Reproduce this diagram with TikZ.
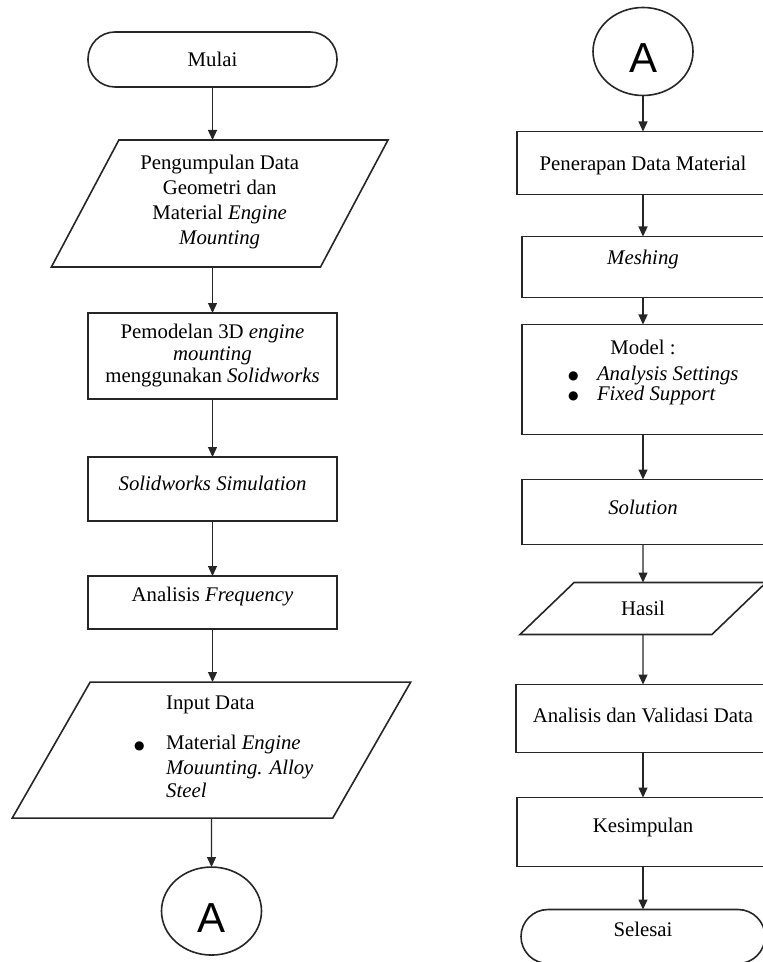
\documentclass[tikz,border=0pt]{standalone}
\usepackage{fontspec}
\setmainfont{Liberation Serif}
\newfontfamily\sansA{Liberation Sans}
\newfontfamily\dejavu{DejaVu Sans}
\usepackage{xcolor}
\definecolor{cLine}{HTML}{262626}
\usetikzlibrary{positioning,arrows.meta,shapes.geometric}
% extra depth below the last line, lifts the text a little
\newcommand{\padlow}[1]{\rule[-#1]{0pt}{#1}}
\newcommand{\bigdot}{\raisebox{0.4pt}{\dejavu\fontsize{6}{6}\selectfont ●}}
\tikzset{
  node-box/.style={draw=cLine,line width=0.8pt,rectangle,minimum width=124.5pt,
    align=center,inner sep=2pt,outer sep=0pt},
  node-term/.style={draw=cLine,line width=0.8pt,rectangle,rounded corners=13.5pt,
    minimum width=124.5pt,minimum height=27.5pt,align=center,outer sep=0pt},
  node-io/.style={draw=cLine,line width=0.8pt,trapezium,trapezium stretches=true,
    align=center,inner sep=2pt,outer sep=0pt},
  node-conn/.style={draw=cLine,line width=0.8pt,ellipse,minimum width=50pt,
    minimum height=44pt,inner sep=1pt,outer sep=0pt,text height=21pt,
    font=\sansA\fontsize{21}{24}\selectfont},
  arrow/.style={-{Triangle[length=5pt,width=4.5pt]},line width=0.6pt,draw=cLine},
}

\begin{document}
\begin{tikzpicture}[x=0.5pt,y=-0.5pt,font=\fontsize{10.4}{12.5}\selectfont]
  \useasboundingbox (0,0) rectangle (762,962);
  % kolom kiri
  \node[node-term] (start) at (212.5,59.5) {Mulai};
  \node[node-io,trapezium left angle=62,trapezium right angle=118,minimum width=168.5pt,
    minimum height=63.5pt,below=26.5pt of start,xshift=3.6pt] (geodata)
    {Pengumpulan Data\\Geometri dan\\Material \textit{Engine}\\\textit{Mounting}\padlow{3.8pt}};
  \node[node-box,minimum height=43pt,below=23pt of geodata,xshift=-3.6pt] (model3d)
    {Pemodelan 3D \textit{engine}\\[-1.5pt]\textit{mounting}\\[-1.5pt]menggunakan \textit{Solidworks}};
  \node[node-box,minimum height=32pt,text depth=5.3pt,below=29pt of model3d] (simsw)
    {\textit{Solidworks Simulation}};
  \node[node-box,minimum height=26.5pt,text depth=7.8pt,below=27.5pt of simsw] (analfreq)
    {Analisis \textit{Frequency}};
  \node[node-io,align=left,trapezium left angle=59.5,trapezium right angle=120.5,
    minimum width=199.5pt,minimum height=68pt,below=26.5pt of analfreq,xshift=-0.5pt] (inputdata)
    {\hspace*{28.3pt}Input Data\\[7.5pt]
     \hspace*{12.3pt}\makebox[16pt][l]{\bigdot}Material \textit{Engine}\\
     \hspace*{28.3pt}\textit{Mouunting. Alloy}\\[-1pt]
     \hspace*{28.3pt}\textit{Steel}\padlow{3pt}};
  \node[node-conn,below=24.5pt of inputdata] (conA) {A};

  % kolom kanan
  \node[node-conn] (conB) at (643,51.5) {A};
  \node[node-box,minimum width=126pt,minimum height=31.5pt,text height=10pt,
    below=18pt of conB] (penerapan) {Penerapan Data Material};
  \node[node-box,minimum width=121pt,minimum height=30.5pt,text depth=9.3pt,
    below=21pt of penerapan] (meshing) {\textit{Meshing}};
  \node[node-box,minimum width=121pt,minimum height=55pt,below=13.5pt of meshing] (modelset)
    {Model :\\[0.5pt]
     \makebox[75pt][l]{\makebox[14.5pt][l]{\bigdot}\textit{Analysis Settings}}\\[-2.5pt]
     \makebox[75pt][l]{\makebox[14.5pt][l]{\bigdot}\textit{Fixed Support}}\padlow{9.3pt}};
  \node[node-box,minimum width=121pt,minimum height=32.5pt,text depth=4.8pt,
    below=22.5pt of modelset] (solusi) {\textit{Solution}};
  \node[node-io,trapezium left angle=48,trapezium right angle=132,minimum width=123.5pt,
    minimum height=26pt,below=19pt of solusi] (hasil) {Hasil};
  \node[node-box,minimum width=127pt,minimum height=34pt,text depth=3.3pt,
    below=25pt of hasil] (analval) {Analisis dan Validasi Data};
  \node[node-box,minimum width=126pt,minimum height=34.5pt,text depth=6.8pt,
    below=22.5pt of analval] (kesimpulan) {Kesimpulan};
  \node[node-term,minimum width=122pt,minimum height=27pt,text depth=7.3pt,
    below=21.5pt of kesimpulan] (finish) {Selesai};

  \draw[arrow] (start) -- (start |- geodata.north);
  \draw[arrow] (start |- geodata.south) -- (model3d);
  \draw[arrow] (model3d) -- (simsw);
  \draw[arrow] (simsw) -- (analfreq);
  \draw[arrow] (analfreq) -- (analfreq |- inputdata.north);
  \draw[arrow] (inputdata) -- (conA);

  \draw[arrow] (conB) -- (penerapan);
  \draw[arrow] (penerapan) -- (meshing);
  \draw[arrow] (meshing) -- (modelset);
  \draw[arrow] (modelset) -- (solusi);
  \draw[arrow] (solusi) -- (hasil);
  \draw[arrow] (hasil) -- (analval);
  \draw[arrow] (analval) -- (kesimpulan);
  \draw[arrow] (kesimpulan) -- (finish);
\end{tikzpicture}
\end{document}
